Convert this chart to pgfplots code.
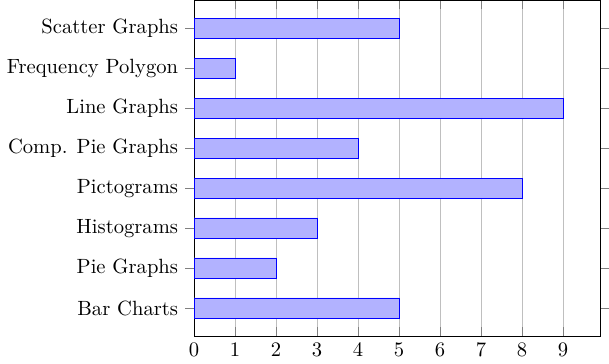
\documentclass[border=0pt]{standalone}
\usepackage{pgfplots}
\pgfplotsset{compat=1.18}
\begin{document}
\begin{tikzpicture}
\begin{axis}[
  xbar,
  scale only axis,
  width=197pt, height=163pt,
  xmin=0, xmax=9.9,
  ymin=-0.7, ymax=7.7,
  xtick={0,1,2,3,4,5,6,7,8,9},
  ytick={0,1,2,3,4,5,6,7},
  yticklabels={Bar Charts,Pie Graphs,Histograms,Pictograms,Comp. Pie Graphs,Line Graphs,Frequency Polygon,Scatter Graphs},
  xmajorgrids,
  bar width=10pt,
]
\addplot[draw=blue, fill=blue!30] coordinates {
(5,0) (2,1) (3,2) (8,3) (4,4) (9,5) (1,6) (5,7)
};
\end{axis}
\end{tikzpicture}
\end{document}
